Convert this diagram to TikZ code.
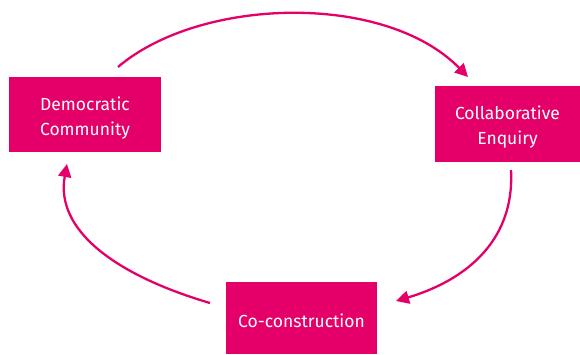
\documentclass[tikz,border=0pt]{standalone}
\usepackage{fontspec}
\setmainfont{Fira Sans}
\usetikzlibrary{arrows.meta}
\definecolor{mag}{RGB}{228,0,104}
\newcommand{\upstrut}{\rule{0pt}{20pt}}
\begin{document}
\begin{tikzpicture}[x=1pt,y=-1pt,
  box/.style={fill=mag,text=white,align=center,font=\fontsize{17.5}{25}\selectfont,inner sep=0pt},
  conn/.style={draw=mag,line width=2.3pt,-{Triangle[length=13pt,width=13pt]}}]
\useasboundingbox (0,0) rectangle (580,354);
\node[box,minimum width=152pt,minimum height=75pt] (dc) at (85,114.5) {\upstrut Democratic\\Community};
\node[box,minimum width=145pt,minimum height=76pt] (ce) at (507.5,124) {\upstrut Collaborative\\Enquiry};
\node[box,minimum width=151pt,minimum height=72pt,text height=19pt] (cc) at (301.5,318) {Co-construction};
\coordinate (a1s) at (118,67);
\coordinate (a1e) at (468,77);
\coordinate (a2s) at (511,170);
\coordinate (a2e) at (396,301);
\coordinate (a3s) at (210,303);
\coordinate (a3e) at (67,164);
\draw[conn] (a1s) .. controls (200,-3) and (385,-8) .. (a1e);
\draw[conn] (a2s) .. controls (515,245) and (460,282) .. (a2e);
\draw[conn] (a3s) .. controls (115,275) and (55,230) .. (a3e);
\end{tikzpicture}
\end{document}
